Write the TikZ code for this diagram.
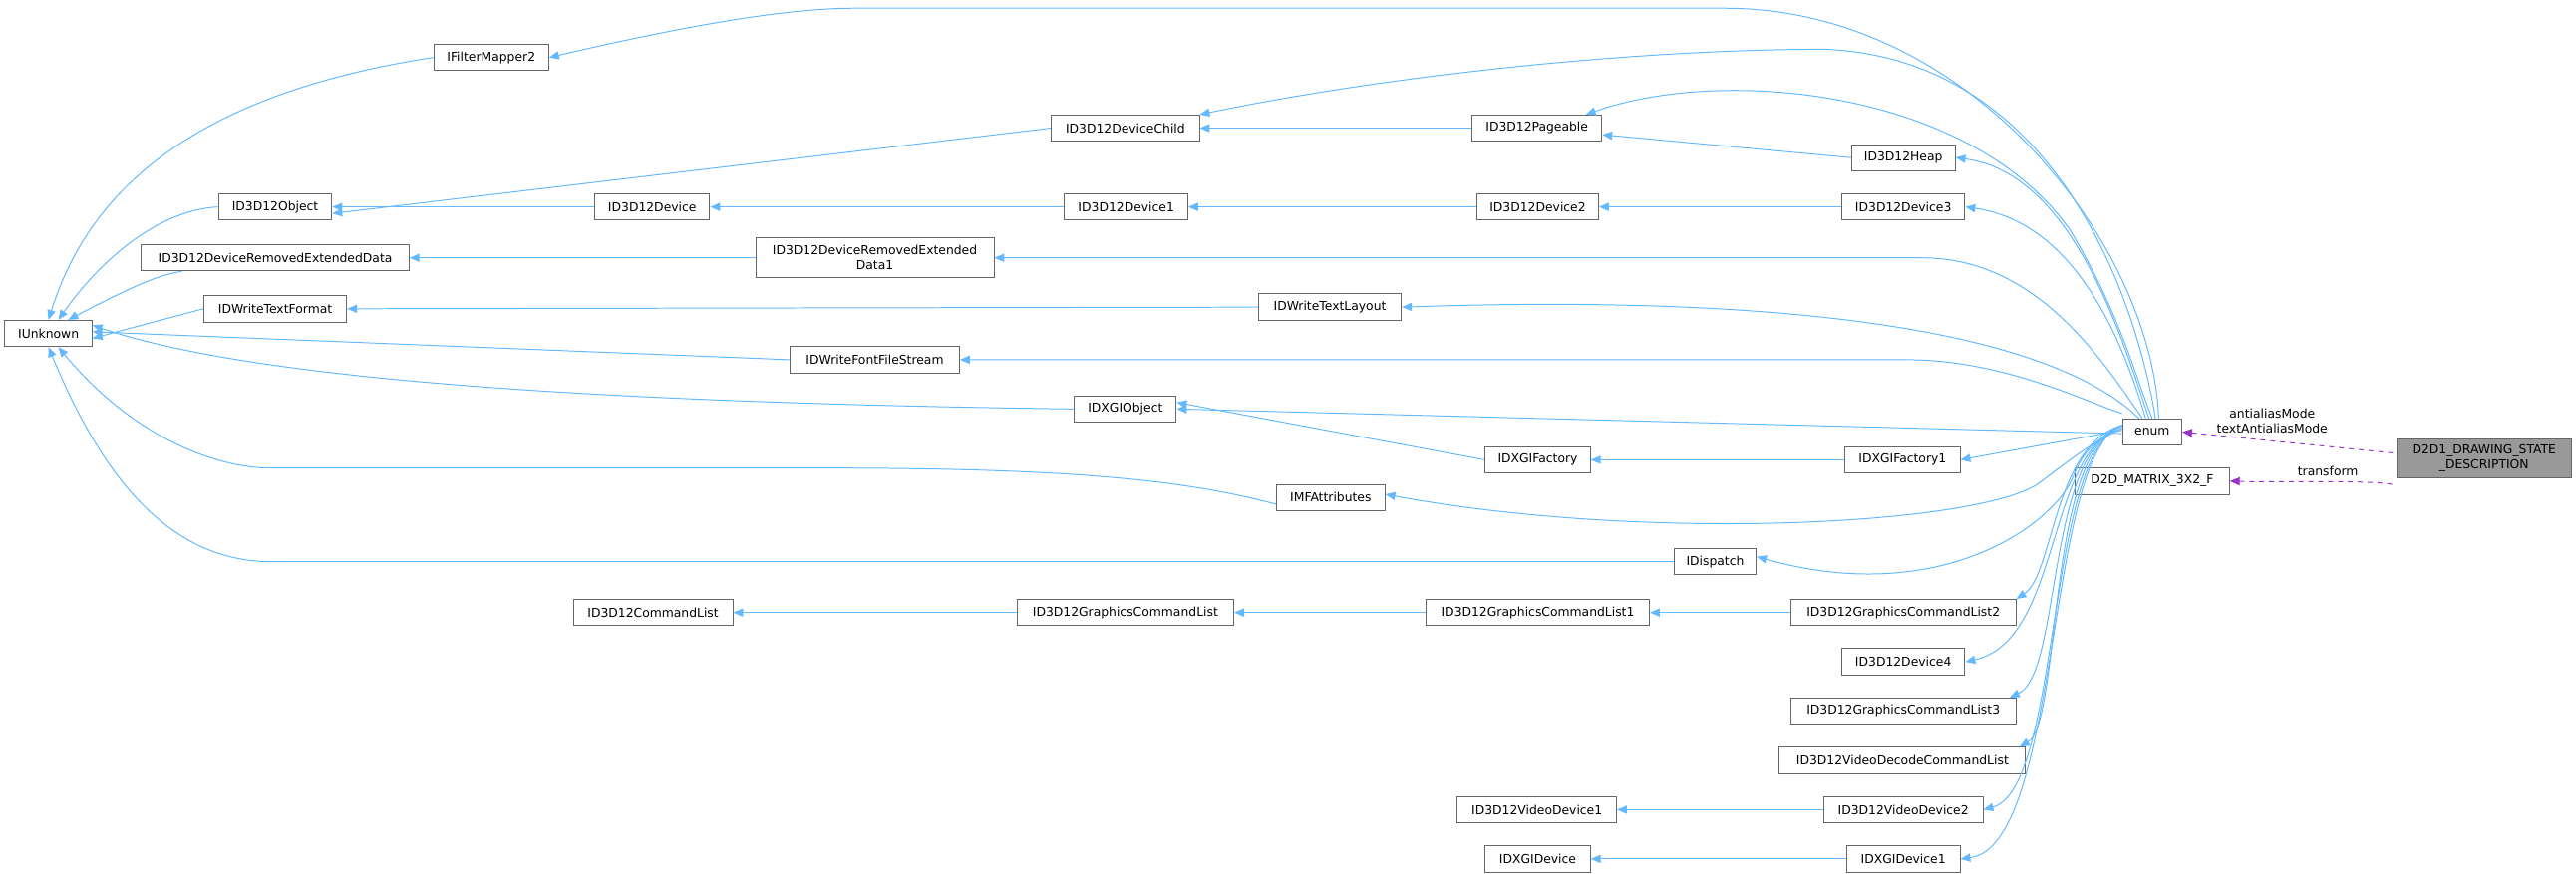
\documentclass[tikz,border=0pt]{standalone}
\usepackage{fontspec}
\setmainfont{DejaVu Sans}
\usetikzlibrary{arrows.meta}
\definecolor{eb}{RGB}{99,184,255}
\definecolor{ep}{RGB}{153,50,204}
\definecolor{bd}{RGB}{102,102,102}
\newcommand{\nd}[6][]{\node[box,#1,minimum width=#4-#3] (#2) at ({(#3+#4)/2},#5) {#6};}
\begin{document}
\begin{tikzpicture}[x=1pt,y=-1pt,
  box/.style={draw=bd,fill=white,line width=0.6pt,inner sep=1pt,minimum height=16pt,font=\fontsize{7.5}{9}\selectfont,align=center},
  e/.style={draw=eb,line width=0.6pt,{Triangle[length=6pt,width=5pt]}-},
  p/.style={draw=ep,line width=0.6pt,dashed,{Triangle[length=6pt,width=5pt]}-},
  lab/.style={font=\fontsize{7.5}{9}\selectfont,align=center}]
\useasboundingbox (0,0) rectangle (1568,532);
\nd{iu}{3}{56}{203}{IUnknown}
\nd{fm}{264}{334}{35}{IFilterMapper2}
\nd{dc}{640}{730}{78}{ID3D12DeviceChild}
\nd{pg}{896}{975}{78}{ID3D12Pageable}
\nd{hp}{1127}{1190}{96}{ID3D12Heap}
\nd{ob}{133}{202}{126}{ID3D12Object}
\nd{d0}{362}{432}{126}{ID3D12Device}
\nd{d1}{648}{723}{126}{ID3D12Device1}
\nd{d2}{899}{973}{126}{ID3D12Device2}
\nd{d3}{1121}{1196}{126}{ID3D12Device3}
\nd{red}{86}{249}{157}{ID3D12DeviceRemovedExtendedData}
\nd[minimum height=24pt]{red1}{460}{605}{157}{ID3D12DeviceRemovedExtended\\Data1}
\nd{tf}{124}{211}{188}{IDWriteTextFormat}
\nd{tl}{766}{853}{187}{IDWriteTextLayout}
\nd{ffs}{481}{584}{219}{IDWriteFontFileStream}
\nd{xo}{654}{716}{249}{IDXGIObject}
\nd{en}{1292}{1328}{263}{enum}
\nd[fill=black!40,minimum height=24pt]{dd}{1459}{1565}{279}{D2D1\_DRAWING\_STATE\\\_DESCRIPTION}
\nd{mx}{1263}{1357}{293}{D2D\_MATRIX\_3X2\_F}
\nd{xf}{904}{968}{280}{IDXGIFactory}
\nd{xf1}{1123}{1193}{280}{IDXGIFactory1}
\nd{mf}{777}{843}{303}{IMFAttributes}
\nd{dp}{1019}{1069}{342}{IDispatch}
\nd{cl}{349}{446}{373}{ID3D12CommandList}
\nd{g0}{619}{751}{373}{ID3D12GraphicsCommandList}
\nd{g1}{868}{1004}{373}{ID3D12GraphicsCommandList1}
\nd{g2}{1090}{1227}{373}{ID3D12GraphicsCommandList2}
\nd{d4}{1121}{1196}{403}{ID3D12Device4}
\nd{g3}{1090}{1227}{433}{ID3D12GraphicsCommandList3}
\nd{vd}{1083}{1233}{463}{ID3D12VideoDecodeCommandList}
\nd{v1}{887}{984}{493}{ID3D12VideoDevice1}
\nd{v2}{1110}{1207}{493}{ID3D12VideoDevice2}
\nd{xd}{904}{968}{523}{IDXGIDevice}
\nd{xd1}{1124}{1193}{523}{IDXGIDevice1}
% IUnknown children
\draw[e] (iu.north) .. controls (50,130) and (100,60) .. (fm.west);
\draw[e] ([xshift=6pt]iu.north) .. controls (60,160) and (95,128) .. (ob.west);
\draw[e] ([xshift=12pt]iu.north) .. controls (70,180) and (95,167) .. ([xshift=25pt]red.south west);
\draw[e] ([yshift=-3pt]iu.east) -- (tf.west);
\draw[e] ([yshift=1pt]iu.east) -- (ffs.west);
\draw[e] ([yshift=5pt]iu.east) .. controls (150,230) and (350,245) .. (xo.west);
\draw[e] ([xshift=6pt]iu.south) .. controls (80,265) and (130,285) .. (165,285) -- (500,285) .. controls (650,285) and (720,292) .. ([yshift=-4pt]mf.west);
\draw[e] (iu.south) .. controls (60,285) and (100,342) .. (165,342) -- (dp.west);
% chains
\draw[e] ([yshift=-4pt]ob.east) -- (dc.west);
\draw[e] (ob.east) -- (d0.west);
\draw[e] (d0.east) -- (d1.west);
\draw[e] (d1.east) -- (d2.west);
\draw[e] (d2.east) -- (d3.west);
\draw[e] (dc.east) -- (pg.west);
\draw[e] ([yshift=-4pt]pg.east) -- (hp.west);
\draw[e] (red.east) -- (red1.west);
\draw[e] (tf.east) -- (tl.west);
\draw[e] ([yshift=4pt]xo.east) -- (xf.west);
\draw[e] (xf.east) -- (xf1.west);
\draw[e] (cl.east) -- (g0.west);
\draw[e] (g0.east) -- (g1.west);
\draw[e] (g1.east) -- (g2.west);
\draw[e] (v1.east) -- (v2.west);
\draw[e] (xd.east) -- (xd1.west);
% enum edges
\draw[e] (fm.east) .. controls (420,15) and (480,5) .. (520,5) -- (1050,5) .. controls (1200,5) and (1310,150) .. ([xshift=4pt]en.north);
\draw[e] (dc.north east) .. controls (850,45) and (1000,30) .. (1110,30) .. controls (1250,35) and (1300,180) .. ([xshift=2pt]en.north);
\draw[e] ([xshift=-10pt]pg.north east) .. controls (1050,40) and (1200,55) .. (1260,140) .. controls (1290,190) and (1300,230) .. (en.north);
\draw[e] (hp.east) .. controls (1260,105) and (1290,200) .. ([xshift=-2pt]en.north);
\draw[e] (d3.east) .. controls (1260,135) and (1290,200) .. ([xshift=-4pt]en.north);
\draw[e] (red1.east) -- (1170,157) .. controls (1240,157) and (1280,220) .. ([xshift=-6pt]en.north);
\draw[e] (tl.east) .. controls (1000,182) and (1230,185) .. ([xshift=-8pt]en.north);
\draw[e] (ffs.east) -- (1160,219) .. controls (1220,219) and (1270,245) .. ([yshift=3pt]en.north west);
\draw[e] (xo.east) -- ([yshift=-1pt]en.west);
\draw[e] (xf1.east) -- ([yshift=1pt]en.west);
\draw[e] ([yshift=2pt]mf.east) .. controls (1000,330) and (1200,320) .. (1240,295) .. controls (1260,280) and (1275,268) .. ([yshift=2pt]en.west);
\draw[e] ([yshift=3pt]dp.east) .. controls (1180,370) and (1250,320) .. (1262,290) .. controls (1270,270) and (1280,266) .. ([yshift=3pt]en.west);
\draw[e] (g2.north east) .. controls (1250,350) and (1250,270) .. ([yshift=4pt]en.west);
\draw[e] (d4.east) .. controls (1255,390) and (1245,275) .. ([yshift=4pt]en.west);
\draw[e] ([xshift=-4pt]g3.north east) .. controls (1255,410) and (1245,275) .. ([yshift=4pt]en.west);
\draw[e] ([xshift=-4pt]vd.north east) .. controls (1255,440) and (1245,275) .. ([yshift=4pt]en.west);
\draw[e] (v2.east) .. controls (1255,480) and (1245,275) .. ([yshift=4pt]en.west);
\draw[e] (xd1.east) .. controls (1255,515) and (1245,275) .. ([yshift=4pt]en.west);
% D2D1
\draw[p] (en.east) -- node[lab,above=1pt,pos=0.42] {antialiasMode\\textAntialiasMode} ([yshift=3pt]dd.west);
\draw[p] (mx.east) .. controls (1400,294) and (1440,292) .. node[lab,above,pos=0.5] {transform} ([yshift=-4pt]dd.south west);
\end{tikzpicture}
\end{document}
